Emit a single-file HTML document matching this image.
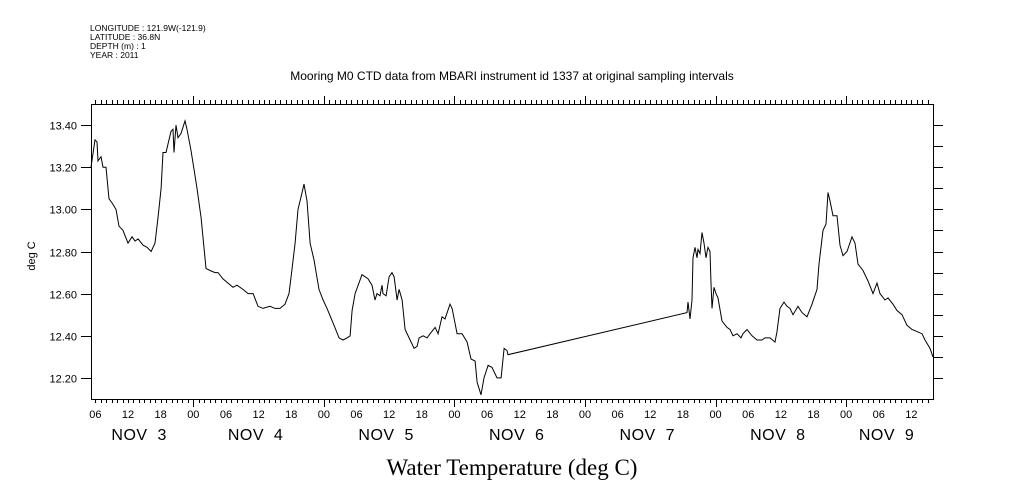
<!DOCTYPE html>
<html><head><meta charset="utf-8">
<style>
html,body{margin:0;padding:0;background:#fff;}
svg{display:block;font-family:"Liberation Sans",sans-serif;}
.day{white-space:pre;}
</style></head>
<body>
<svg id="chart" width="1009" height="504" viewBox="0 0 1009 504" xmlns="http://www.w3.org/2000/svg">
<rect width="1009" height="504" fill="#fff"/>
<g font-size="8.5" fill="#000">
<text x="90" y="31">LONGITUDE : 121.9W(-121.9)</text>
<text x="90" y="40">LATITUDE : 36.8N</text>
<text x="90" y="49">DEPTH (m) : 1</text>
<text x="90" y="58">YEAR : 2011</text>
</g>
<text x="512" y="80" font-size="12" text-anchor="middle">Mooring M0 CTD data from MBARI instrument id 1337 at original sampling intervals</text>
<text transform="translate(35,256) rotate(-90)" font-size="11" text-anchor="middle">deg C</text>
<text x="512" y="475" font-size="23" text-anchor="middle" font-family="Liberation Serif,serif">Water Temperature (deg C)</text>
<g id="axes"></g>
<g id="series"></g>
</svg>
<script>
const hours=[5.19,5.93,6.30,6.48,7.03,7.40,7.95,8.50,9.06,9.79,10.34,11.08,12.00,12.73,13.29,13.84,14.76,15.49,16.23,16.96,17.51,18.07,18.43,18.98,19.35,19.90,20.27,20.45,20.82,21.18,21.74,22.47,22.84,23.58,24.13,24.68,25.42,26.33,27.07,27.99,28.54,29.46,30.38,31.30,32.03,33.14,34.06,34.98,35.89,36.81,38.10,39.02,39.94,40.86,41.59,42.15,42.70,43.25,43.99,44.35,44.90,45.46,46.19,47.11,47.85,48.58,49.69,50.79,51.52,52.26,52.81,53.18,53.73,55.01,56.12,56.85,57.40,57.77,58.32,58.69,58.87,59.43,59.98,60.53,60.90,61.45,61.82,62.37,62.92,63.84,64.58,65.13,65.50,66.23,66.97,67.52,68.44,68.99,69.72,70.27,71.19,71.56,72.48,73.40,74.32,75.05,75.79,76.16,76.89,77.44,78.18,78.91,79.83,80.57,81.12,81.67,81.85,114.75,114.93,115.30,115.67,115.85,116.22,116.59,116.77,117.14,117.50,117.87,118.24,118.61,118.97,119.16,119.34,119.71,120.08,120.45,121.18,122.10,122.65,123.20,123.94,124.67,125.04,125.78,126.70,127.62,128.54,129.09,130.01,130.93,131.29,131.84,132.58,133.13,133.68,134.23,135.15,135.89,136.81,137.73,138.65,139.01,139.75,140.30,140.67,141.04,141.59,142.32,142.87,143.43,144.16,145.08,145.63,146.18,147.10,148.02,148.94,149.68,150.23,151.15,151.70,152.62,153.35,154.27,155.19,156.11,157.03,157.95,158.50,159.42,159.97];
const temps=[13.20,13.33,13.32,13.23,13.25,13.20,13.20,13.05,13.03,13.00,12.92,12.90,12.84,12.87,12.85,12.86,12.83,12.82,12.80,12.84,12.96,13.10,13.27,13.27,13.31,13.37,13.38,13.27,13.40,13.34,13.36,13.42,13.38,13.28,13.19,13.10,12.96,12.72,12.71,12.70,12.70,12.67,12.65,12.63,12.64,12.62,12.60,12.60,12.54,12.53,12.54,12.53,12.53,12.55,12.60,12.72,12.84,13.00,13.08,13.12,13.04,12.84,12.76,12.62,12.57,12.53,12.46,12.39,12.38,12.39,12.40,12.52,12.60,12.69,12.67,12.64,12.57,12.60,12.59,12.64,12.60,12.59,12.68,12.70,12.68,12.57,12.62,12.57,12.43,12.38,12.34,12.35,12.39,12.40,12.39,12.41,12.44,12.41,12.49,12.48,12.55,12.53,12.41,12.41,12.37,12.29,12.28,12.18,12.12,12.20,12.26,12.25,12.20,12.20,12.34,12.33,12.31,12.51,12.56,12.48,12.57,12.77,12.82,12.77,12.81,12.79,12.89,12.84,12.77,12.82,12.80,12.65,12.53,12.63,12.60,12.58,12.47,12.44,12.43,12.40,12.41,12.39,12.41,12.43,12.40,12.38,12.38,12.39,12.39,12.37,12.42,12.53,12.56,12.54,12.53,12.50,12.54,12.51,12.49,12.55,12.62,12.74,12.90,12.93,13.08,13.04,12.97,12.97,12.83,12.78,12.80,12.87,12.84,12.74,12.71,12.66,12.60,12.65,12.60,12.57,12.58,12.55,12.52,12.50,12.45,12.43,12.42,12.41,12.38,12.34,12.30];
const yTickLabels=["12.20","12.40","12.60","12.80","13.00","13.20","13.40"];
const hourLabels=["06","12","18","00"];
const dayLabels=["NOV  3","NOV  4","NOV  5","NOV  6","NOV  7","NOV  8","NOV  9"];
const xMin=5.19, xMax=159.97, yMin=12.1, yMax=13.5;
const L=91,R=933,T=104,B=399;
const NS='http://www.w3.org/2000/svg';
function sx(h){return L+(h-xMin)/(xMax-xMin)*(R-L);}
function sy(v){return B-(v-yMin)/(yMax-yMin)*(B-T);}
const axes=document.getElementById('axes');
function mk(tag,attrs,parent){const e=document.createElementNS(NS,tag);for(const k in attrs)e.setAttribute(k,attrs[k]);parent.appendChild(e);return e;}
let fr=mk('rect',{x:L+0.5,y:T+0.5,width:R-L,height:B-T,fill:'none',stroke:'#000','stroke-width':1},axes);


for(let h=Math.ceil(xMin);h<=xMax;h++){
  const x=Math.round(sx(h))+0.5;const big=(h%24===0);const len=big?8:4;
  let t1=mk('line',{x1:x,y1:B,x2:x,y2:B+len,stroke:'#000'},axes);
  
  
  let t2=mk('line',{x1:x,y1:T,x2:x,y2:T-len,stroke:'#000'},axes);
  
  
  if(h%6===0){
    let lb=mk('text',{x:sx(h),y:418,'font-size':11,'text-anchor':'middle'},axes);
    lb.textContent=hourLabels[((h/6)+3)%4];
    
    
  }
}
for(let d=0;d<dayLabels.length;d++){
  const a=Math.max(d*24,xMin), b=Math.min(d*24+24,xMax);
  let dl=mk('text',{x:sx((a+b)/2)-3,y:440,'font-size':16,'text-anchor':'middle','class':'day','letter-spacing':'0.5'},axes);
  dl.textContent=dayLabels[d];
  
  
}
for(let i=1;i<14;i++){
  const v=yMin+i*0.1;const y=Math.round(sy(v))+0.5;
  let tr=mk('line',{x1:R,y1:y,x2:R+10,y2:y,stroke:'#000'},axes);
  
  
  if(i%2===1){
    let tl=mk('line',{x1:L-10,y1:y,x2:L,y2:y,stroke:'#000'},axes);
    
    
    let lb=mk('text',{x:L-14,y:y+4,'font-size':11,'text-anchor':'end'},axes);
    lb.textContent=yTickLabels[(i-1)/2];
    
    
  }
}
const pts=hours.map((h,i)=>sx(h).toFixed(1)+','+sy(temps[i]).toFixed(1)).join(' ');
let pl=mk('polyline',{points:pts,fill:'none',stroke:'#000','stroke-width':1},document.getElementById('series'));


</script>
</body></html>
